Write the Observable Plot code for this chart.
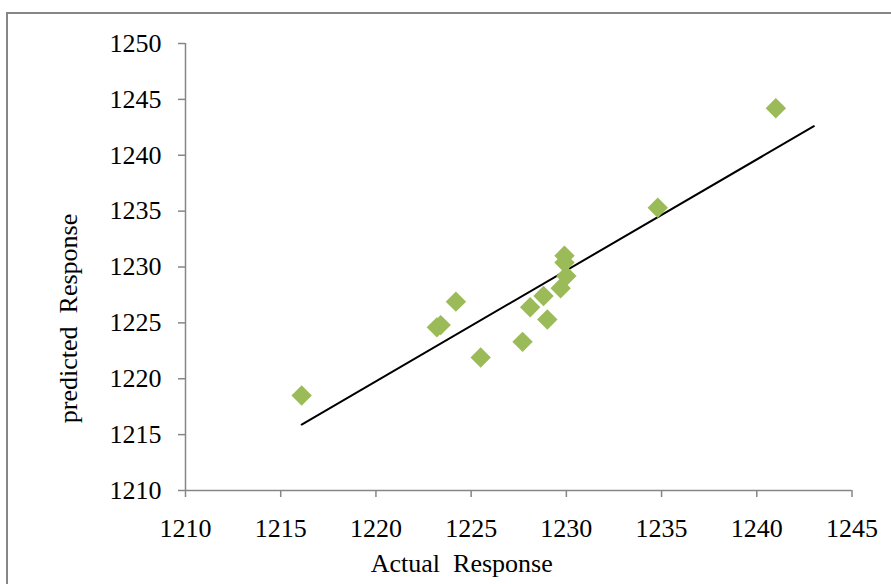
<!DOCTYPE html>
<html>
<head>
<meta charset="utf-8">
<script src="https://cdn.jsdelivr.net/npm/d3@7"></script>
<script src="https://cdn.jsdelivr.net/npm/@observablehq/plot@0.6"></script>
<style>
  html, body { margin: 0; padding: 0; background: #fff; overflow: hidden; }
  #wrap { position: relative; width: 891px; height: 584px; }
  #frame { position: absolute; left: 6px; top: 12px; width: 950px; height: 650px; border: 2px solid #868686; box-sizing: border-box; pointer-events: none; }
  #chart { position: absolute; left: 0; top: 0; }
  #chart svg, #chart svg text { font-family: "Liberation Serif", "Times New Roman", serif !important; }
</style>
</head>
<body>
<div id="wrap"><div id="chart"></div><div id="frame"></div></div>
<script>
const actual    = [1216.1, 1223.2, 1223.4, 1224.2, 1225.5, 1227.7, 1228.1, 1228.8, 1229.0, 1229.7, 1230.0, 1229.9, 1229.9, 1234.8, 1241.0];
const predicted = [1218.5, 1224.6, 1224.8, 1226.9, 1221.9, 1223.3, 1226.4, 1227.4, 1225.3, 1228.1, 1229.2, 1230.4, 1231.0, 1235.3, 1244.2];
const trendX = [1216.1, 1243.0];
const trendY = [1215.9, 1242.6];
const xTicks = [1210, 1215, 1220, 1225, 1230, 1235, 1240, 1245];
const yTicks = [1210, 1215, 1220, 1225, 1230, 1235, 1240, 1245, 1250];
const xLabel = "Actual  Response";
const yLabel = "predicted  Response";

const points = actual.map((a, i) => ({actual: a, predicted: predicted[i]}));
const trend = trendX.map((x, i) => ({x, y: trendY[i]}));
const axisGrey = "#868686";
const serif = "Liberation Serif, Times New Roman, serif";

const chart = Plot.plot({
  width: 891,
  height: 584,
  marginLeft: 185,
  marginRight: 39.5,
  marginTop: 43,
  marginBottom: 94,
  style: {fontFamily: serif, fontSize: "26px", background: "transparent", color: "black"},
  x: {domain: [1210, 1245]},
  y: {domain: [1210, 1250]},
  marks: [
    Plot.ruleY([1210], {stroke: axisGrey, strokeWidth: 1.5}),
    Plot.ruleX([1210], {stroke: axisGrey, strokeWidth: 1.5}),
    Plot.axisX({ticks: xTicks, tickSize: 7, tickPadding: 21, stroke: axisGrey, strokeWidth: 1.5, fill: "black", label: null, tickFormat: d => String(d), fontSize: 26, fontFamily: serif}),
    Plot.axisY({ticks: yTicks, tickSize: 7, tickPadding: 17, stroke: axisGrey, strokeWidth: 1.5, fill: "black", label: null, tickFormat: d => String(d), fontSize: 26, fontFamily: serif}),
    Plot.line(trend, {x: "x", y: "y", stroke: "black", strokeWidth: 2}),
    Plot.dot(points, {x: "actual", y: "predicted", symbol: "diamond2", r: 9.2, fill: "#9BBB59", stroke: "none"}),
    Plot.text([xLabel], {text: d => d, frameAnchor: "bottom", dx: -57, dy: 73, lineAnchor: "middle", fontSize: 26, fontFamily: serif, fill: "black"}),
    Plot.text([yLabel], {text: d => d, frameAnchor: "left", dx: -117, dy: 51.5, rotate: -90, textAnchor: "middle", lineAnchor: "middle", fontSize: 26, fontFamily: serif, fill: "black"})
  ]
});
document.getElementById("chart").appendChild(chart);
</script>
</body>
</html>
